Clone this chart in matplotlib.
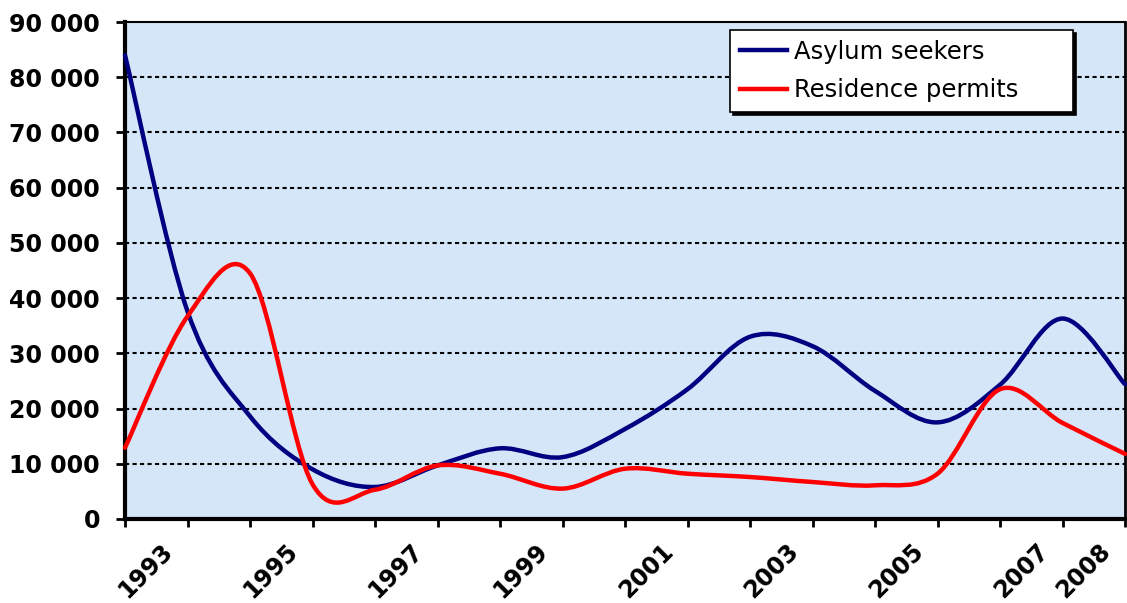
import numpy as np
import matplotlib
matplotlib.use('Agg')
import matplotlib.pyplot as plt
from matplotlib.path import Path
from matplotlib.patches import PathPatch
from matplotlib.lines import Line2D
from matplotlib.transforms import ScaledTranslation

# yearly figures, one value per category slot
asylum_seekers = [84000, 37600, 18600, 9000, 5800, 9700, 12800, 11200, 16300,
                  23500, 33000, 31300, 23200, 17500, 24300, 36300, 24400]
residence_permits = [12900, 36700, 44500, 6300, 5300, 9700, 8200, 5500, 9100,
                     8200, 7600, 6700, 6100, 8200, 23500, 17400, 11800]
series_names = ['Asylum seekers', 'Residence permits']
year_labels = ['1993', '1995', '1997', '1999', '2001', '2003', '2005', '2007', '2008']
label_slots = [0, 2, 4, 6, 8, 10, 12, 14, 15]


def smooth_path(values):
    # bezier curve through every point, spreadsheet-style smoothing
    pts = np.column_stack([np.arange(len(values)), values]).astype(float)
    n = len(pts)
    verts = [pts[0]]
    codes = [Path.MOVETO]
    for i in range(n - 1):
        p_prev = pts[max(i - 1, 0)]
        p0 = pts[i]
        p1 = pts[i + 1]
        p_next = pts[min(i + 2, n - 1)]
        verts += [p0 + (p1 - p_prev) / 6, p1 - (p_next - p0) / 6, p1]
        codes += [Path.CURVE4] * 3
    return Path(verts, codes)


fig = plt.figure(figsize=(11.27, 6.03), dpi=100)
ax = fig.add_axes([125 / 1127, 84 / 603, 1000 / 1127, 497 / 603])
ax.set_facecolor('#d5e6f8')

colors = ['#000080', '#ff0000']
for values, color in zip([asylum_seekers, residence_permits], colors):
    ax.add_patch(PathPatch(smooth_path(values), facecolor='none', edgecolor=color,
                           lw=3.2, capstyle='round', joinstyle='round',
                           clip_on=False, zorder=3))

ax.set_xlim(0, len(asylum_seekers) - 1)
ax.set_ylim(0, 90000)

# dotted grid at every 10 000
ax.set_yticks(np.arange(0, 90001, 10000))
ax.set_yticklabels([f'{v:,}'.replace(',', ' ') for v in range(0, 90001, 10000)])
for v in range(10000, 90000, 10000):
    ax.axhline(v, color='black', lw=1.5, linestyle=(0, (2.0, 1.6)), zorder=1)

ax.set_xticks(np.arange(len(asylum_seekers)), minor=True)
ax.set_xticks(label_slots)
ax.set_xticklabels(year_labels)

ax.tick_params(axis='y', direction='out', length=6.5, width=2, pad=11.5,
               labelsize=17)
ax.tick_params(axis='x', which='both', direction='out', length=6, width=2)
ax.tick_params(axis='x', which='major', pad=31.5, labelsize=17)

for lbl in ax.get_yticklabels():
    lbl.set_fontweight('bold')
for lbl in ax.get_xticklabels():
    lbl.set_fontweight('bold')
    lbl.set_rotation(45)
    lbl.set_rotation_mode('anchor')
    lbl.set_ha('center')
    lbl.set_va('center')
    lbl.set_transform(lbl.get_transform() + ScaledTranslation(0.21, 0, fig.dpi_scale_trans))

ax.spines['left'].set_linewidth(3)
ax.spines['bottom'].set_linewidth(3)
ax.spines['top'].set_linewidth(1.5)
ax.spines['right'].set_linewidth(2)

handles = [Line2D([], [], color=c, lw=3.2) for c in colors]
leg = ax.legend(handles, series_names, loc='upper left',
                bbox_to_anchor=(0.605, 0.807, 0.343, 0.177), mode='expand',
                borderaxespad=0, fontsize=17.5, handlelength=1.95,
                handletextpad=0.3, labelspacing=0.6, borderpad=0.4,
                fancybox=False, framealpha=1, edgecolor='black',
                shadow={'color': 'black', 'alpha': 1})
leg.get_frame().set_linewidth(1.2)

fig.savefig('out.png', dpi=100)
